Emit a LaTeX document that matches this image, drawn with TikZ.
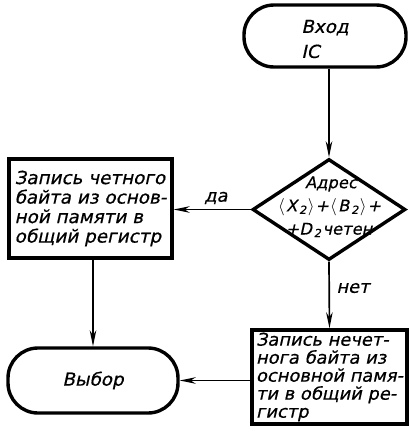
\documentclass[tikz,border=0pt]{standalone}
\usepackage{fontspec}
\newfontfamily\gost{DejaVu Sans}[FakeSlant=0.22,FakeStretch=1.02,FakeBold=0.6]
\usetikzlibrary{shapes.geometric,arrows.meta}
\newcommand\sub[1]{\kern1.8pt\textsubscript{#1}\kern1pt}
\newcommand\lbr{\kern1.2pt$\langle$\kern1.2pt}
\newcommand\rbr{$\rangle$\kern0.8pt}
\begin{document}
\begin{tikzpicture}[x=1pt,y=-1pt,
  term/.style={draw, line width=3.4pt, rectangle, rounded corners=30pt, inner sep=0pt},
  proc/.style={draw, line width=3.4pt, rectangle, inner sep=0pt},
  decide/.style={draw, line width=3.4pt, diamond, inner sep=0pt},
  txt/.style={font=\gost\fontsize{18}{19.5}\selectfont, align=left},
  dtxt/.style={font=\gost\fontsize{16}{18}\selectfont, inner sep=0pt},
  lbl/.style={font=\gost\fontsize{17.5}{19}\selectfont, inner sep=0pt},
  flow/.style={line width=1.7pt, -{Stealth[length=16pt,width=6.5pt,inset=5pt]}}]
\useasboundingbox (0,0) rectangle (408,434);

% blocks
\node[term, minimum width=162pt, minimum height=62pt] (start) at (325,36) {};
\node[txt, font=\gost\fontsize{18}{25}\selectfont, inner sep=0pt] (starttxt) at (325,39) {Вход\\IC};
\node[decide, minimum width=153pt, minimum height=101pt] (dec) at (329,209.5) {};
\node[dtxt] (dec1) at (331,184) {Адрес};
\node[dtxt] (dec2) at (329,207) {\lbr X\sub{2}\rbr+\lbr B\sub{2}\rbr+};
\node[dtxt] (dec3) at (329,230) {+D\sub{2} четен};
\node[proc, txt, minimum width=163pt, minimum height=99pt] (even) at (90.5,208.5)
  {Запись четного\\байта из основ-\\ной памяти в\\общий регистр};
\node[proc, txt, font=\gost\fontsize{17.5}{18}\selectfont, minimum width=155pt, minimum height=94pt] (odd) at (329.5,377)
  {Запись нечет-\\нога байта из\\основной памя-\\ти в общий ре-\\гистр};
\node[term, txt, minimum width=170pt, minimum height=65pt] (fetch) at (93,380.5) {Выбор};

% connectors
\draw[flow] (start.south -| dec.north) -- (dec.north);
\draw[flow] (dec.west) -- (dec.west -| even.east);
\draw[flow] (even.south -| fetch.north) -- (fetch.north);
\draw[flow] (dec.south) -- (odd.north);
\draw[flow] (odd.west |- fetch.east) -- (fetch.east);

% branch labels
\node[lbl] (yes) at (216,198) {да};
\node[lbl] (no) at (353,288) {нет};
\end{tikzpicture}
\end{document}
